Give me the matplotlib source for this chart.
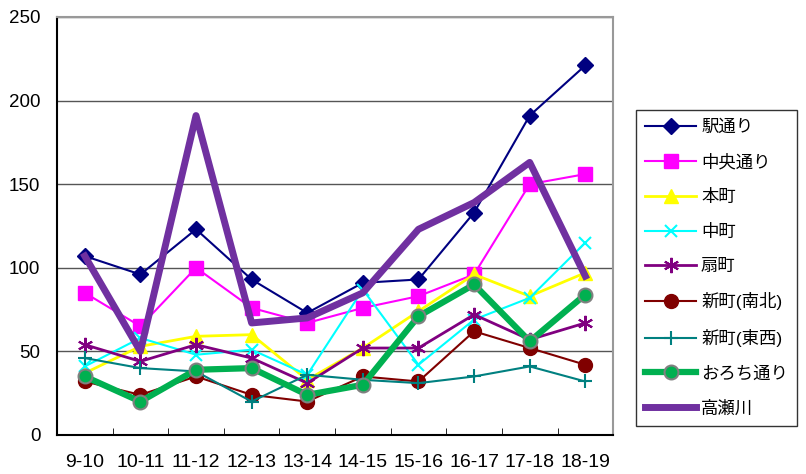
import matplotlib

matplotlib.use("Agg")
import matplotlib.pyplot as plt

plt.rcParams["font.family"] = ["Liberation Sans", "Noto Sans CJK JP", "DejaVu Sans"]

# 年度区間
categories = ["9-10", "10-11", "11-12", "12-13", "13-14",
              "14-15", "15-16", "16-17", "17-18", "18-19"]

ekidori = [107, 96, 123, 93, 73, 91, 93, 133, 191, 221]
chuo_dori = [85, 65, 100, 76, 67, 76, 83, 96, 150, 156]
honmachi = [37, 53, 59, 60, 33, 52, 74, 96, 83, 97]
nakamachi = [41, 58, 48, 51, 36, 87, 42, 69, 82, 115]
ogimachi = [54, 44, 54, 46, 31, 52, 52, 72, 57, 67]
shinmachi_ns = [32, 24, 35, 24, 20, 35, 32, 62, 52, 42]
shinmachi_ew = [46, 40, 38, 20, 36, 33, 31, 35, 41, 32]
orochi_dori = [35, 20, 39, 40, 24, 30, 71, 90, 56, 84]
takasegawa = [107, 50, 191, 67, 70, 85, 123, 139, 163, 95]

fig = plt.figure(figsize=(8.06, 4.74), dpi=100)
ax = fig.add_axes([0.0707, 0.0823, 0.69, 0.882])

x = list(range(len(categories)))

ax.plot(x, ekidori, color="#000080", lw=1.5, marker="D", ms=8, label="駅通り")
ax.plot(x, chuo_dori, color="#FF00FF", lw=1.5, marker="s", ms=10, label="中央通り")
ax.plot(x, honmachi, color="#FFFF00", lw=2, marker="^", ms=10, label="本町")
ax.plot(x, nakamachi, color="#00FFFF", lw=1.5, marker="x", ms=9, mew=1.5, label="中町")
ax.plot(x, ogimachi, color="#800080", lw=2, marker=(6, 2, 0), ms=11, mew=1.5, label="扇町")
ax.plot(x, shinmachi_ns, color="#800000", lw=1.5, marker="o", ms=10, label="新町(南北)")
ax.plot(x, shinmachi_ew, color="#008080", lw=1.5, marker="+", ms=10, mew=1.5, label="新町(東西)")
ax.plot(x, orochi_dori, color="#00B050", lw=4.5, marker="o", ms=10,
        mfc="#00B050", mec="#808080", mew=1.5, label="おろち通り")
ax.plot(x, takasegawa, color="#7030A0", lw=5, label="高瀬川")

ax.set_xlim(-0.5, len(categories) - 0.5)
ax.set_ylim(0, 250)
ax.set_yticks(range(0, 251, 50))
ax.set_xticks(x)
ax.set_xticklabels(categories, fontsize=14)
ax.set_xticks([i + 0.5 for i in range(len(categories) - 1)], minor=True)
ax.tick_params(axis="x", which="major", length=0, pad=14)
ax.tick_params(axis="x", which="minor", direction="in", length=5, color="black")
ax.tick_params(axis="y", length=0, labelsize=13.5, pad=12)

ax.grid(axis="y", color="#555555", lw=1)
ax.set_axisbelow(True)
for side in ["left", "bottom"]:
    ax.spines[side].set_color("black")
    ax.spines[side].set_linewidth(1.5)
for side in ["top", "right"]:
    ax.spines[side].set_color("#999999")
    ax.spines[side].set_linewidth(1.5)

leg = fig.legend(loc="upper left", bbox_to_anchor=(0.789, 0.768), fontsize=12.5,
                 frameon=True, fancybox=False, edgecolor="black", handlelength=2.9,
                 labelspacing=1.08, borderpad=0.55, handletextpad=0.3, borderaxespad=0)
leg.get_frame().set_linewidth(1)

fig.savefig("out.png", dpi=100)
plt.close(fig)
